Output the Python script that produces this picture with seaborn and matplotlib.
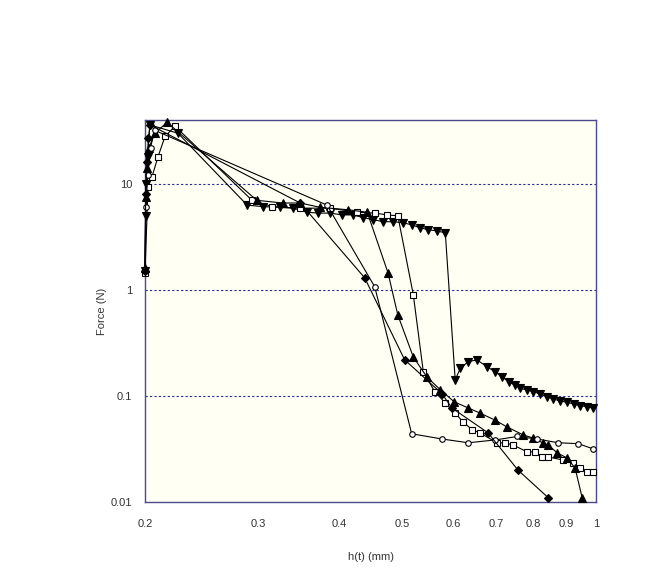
import pandas as pd
import seaborn as sns
import matplotlib
matplotlib.use("Agg")
import matplotlib.pyplot as plt
from matplotlib.ticker import FixedLocator, NullLocator

# h(t) in mm, force in N
h_down = [0.200, 0.2005, 0.201, 0.202, 0.2035, 0.225,
          0.288, 0.305, 0.324, 0.339, 0.357, 0.371, 0.387, 0.404, 0.420, 0.436,
          0.451, 0.468, 0.485, 0.502, 0.519, 0.534, 0.549, 0.567, 0.584,
          0.605, 0.616, 0.634, 0.654, 0.677, 0.698, 0.715, 0.732, 0.749, 0.763,
          0.781, 0.800, 0.820, 0.839, 0.859, 0.880, 0.901, 0.923, 0.945, 0.968, 0.991]
f_down = [1.5, 5.0, 10.0, 18.0, 36.0, 30.0,
          6.3, 6.1, 6.0, 5.9, 5.4, 5.3, 5.3, 5.1, 5.1, 4.8,
          4.6, 4.4, 4.4, 4.3, 4.1, 3.85, 3.7, 3.6, 3.45,
          0.142, 0.182, 0.211, 0.219, 0.189, 0.169, 0.152, 0.136, 0.127, 0.118,
          0.114, 0.110, 0.104, 0.0985, 0.0938, 0.0897, 0.0873, 0.0841, 0.081, 0.0793, 0.0766]

h_square = [0.200, 0.2022, 0.205, 0.2095, 0.2148, 0.2226,
            0.293, 0.315, 0.348, 0.387, 0.426, 0.455, 0.474, 0.493,
            0.521, 0.540, 0.563, 0.584, 0.605, 0.622, 0.643, 0.661, 0.703, 0.723,
            0.744, 0.782, 0.805, 0.825, 0.843, 0.889, 0.922, 0.945, 0.969, 0.991]
f_square = [1.45, 9.4, 11.6, 18.0, 28.0, 35.0,
            7.0, 6.1, 5.9, 5.9, 5.4, 5.3, 5.1, 5.0,
            0.9, 0.168, 0.109, 0.086, 0.069, 0.057, 0.048, 0.0448, 0.0361, 0.0361,
            0.0345, 0.0297, 0.0297, 0.0266, 0.0266, 0.0249, 0.0233, 0.0209, 0.0192, 0.0192]

h_up = [0.200, 0.2005, 0.2015, 0.203, 0.207, 0.2164,
        0.298, 0.327, 0.348, 0.374, 0.413, 0.442,
        0.476, 0.493, 0.521, 0.547, 0.574, 0.603, 0.634, 0.661, 0.698, 0.728,
        0.771, 0.800, 0.828, 0.843, 0.871, 0.902, 0.928, 0.952]
f_up = [1.6, 7.5, 14.0, 22.0, 30.0, 38.0,
        7.0, 6.6, 6.6, 6.0, 5.7, 5.4,
        1.45, 0.58, 0.233, 0.151, 0.114, 0.088, 0.077, 0.069, 0.059, 0.051,
        0.043, 0.040, 0.036, 0.0345, 0.029, 0.026, 0.0209, 0.0109]

h_circle = [0.200, 0.2007, 0.202, 0.204, 0.207,
            0.383, 0.454, 0.518, 0.577, 0.634, 0.698, 0.755, 0.810, 0.874, 0.939, 0.991]
f_circle = [1.5, 6.0, 12.0, 22.0, 32.0,
            6.3, 1.07, 0.044, 0.0393, 0.0362, 0.0385, 0.0415, 0.0393, 0.0362, 0.0355, 0.0316]

h_diamond = [0.200, 0.2005, 0.2012, 0.2025, 0.2036,
             0.348, 0.438, 0.505, 0.577, 0.598, 0.680, 0.757, 0.843]
f_diamond = [1.5, 8.0, 16.0, 27.0, 36.0,
             6.6, 1.3, 0.22, 0.105, 0.077, 0.045, 0.020, 0.011]

x_ticks = [0.2, 0.3, 0.4, 0.5, 0.6, 0.7, 0.8, 0.9, 1.0]
x_tick_labels = ["0.2", "0.3", "0.4", "0.5", "0.6", "0.7", "0.8", "0.9", "1"]
y_ticks = [0.01, 0.1, 1, 10]
y_tick_labels = ["0.01", "0.1", "1", "10"]

series = [
    ("down", h_down, f_down, "v", "black", 5.5),
    ("square", h_square, f_square, "s", "white", 4.5),
    ("up", h_up, f_up, "^", "black", 5.5),
    ("circle", h_circle, f_circle, "o", "white", 4.0),
    ("diamond", h_diamond, f_diamond, "D", "black", 3.8),
]

sns.set_style("white")
plt.rcParams["font.family"] = ["Liberation Sans", "DejaVu Sans"]

fig = plt.figure(figsize=(6.7, 5.71), dpi=100)
fig.patch.set_facecolor("white")
ax = fig.add_axes([0.2164, 0.1208, 0.6732, 0.669])
ax.set_facecolor("#fffff4")

for name, h, f, mk, fc, ms in series:
    df = pd.DataFrame({"h": h, "force": f})
    sns.lineplot(data=df, x="h", y="force", ax=ax, sort=False, estimator=None,
                 color="black", linewidth=0.8, marker=mk, markersize=ms,
                 markerfacecolor=fc, markeredgecolor="black", markeredgewidth=0.8,
                 clip_on=False, zorder=3)

ax.set_xscale("log")
ax.set_yscale("log")
ax.set_xlim(0.2, 1.0)
ax.set_ylim(0.01, 40)

ax.xaxis.set_major_locator(FixedLocator(x_ticks))
ax.xaxis.set_minor_locator(NullLocator())
ax.set_xticklabels(x_tick_labels)
ax.yaxis.set_major_locator(FixedLocator(y_ticks))
ax.yaxis.set_minor_locator(NullLocator())
ax.set_yticklabels(y_tick_labels)
ax.tick_params(axis="x", length=0, labelsize=8, labelcolor="#333333", pad=12)
ax.tick_params(axis="y", length=0, labelsize=8, labelcolor="#333333", pad=9)

for yv in [0.1, 1, 10]:
    ax.axhline(yv, color="#2a2aa0", linestyle=(0, (2, 2)), linewidth=0.8, zorder=1)

for sp in ax.spines.values():
    sp.set_color("#4a4a8c")
    sp.set_linewidth(1.0)
    sp.set_visible(True)

ax.set_xlabel("h(t) (mm)", fontsize=8, color="#333333", labelpad=17)
ax.set_ylabel("Force (N)", fontsize=8, color="#333333", labelpad=3)

fig.savefig("out.png", dpi=100)
